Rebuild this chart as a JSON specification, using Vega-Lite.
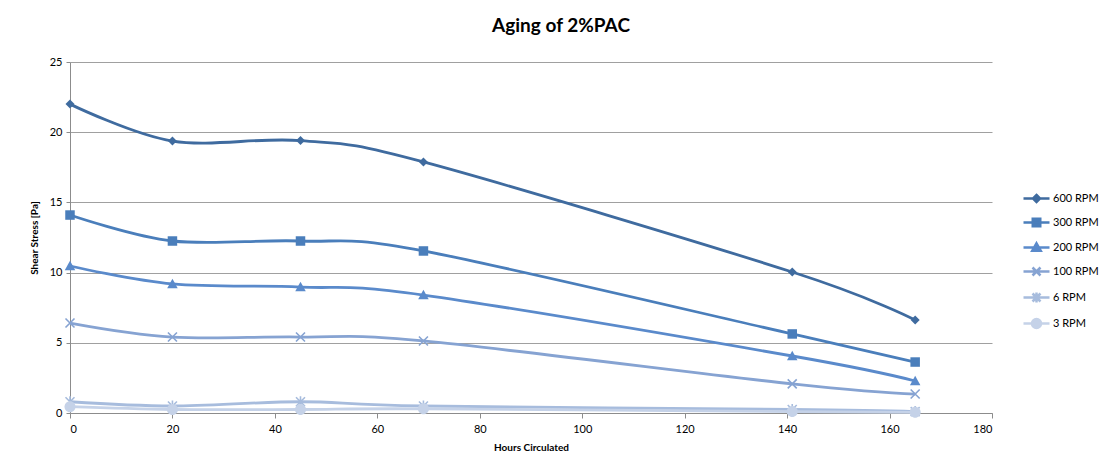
{
  "$schema": "https://vega.github.io/schema/vega-lite/v6.json",
  "autosize": "none",
  "width": 922,
  "height": 351,
  "padding": {"left": 70, "top": 62, "right": 112, "bottom": 57},
  "background": "white",
  "config": {
    "font": "Lato",
    "view": {"stroke": null},
    "axis": {
      "labelFont": "Lato",
      "labelFontSize": 11,
      "labelColor": "#000000",
      "titleFont": "Lato",
      "titleFontSize": 10,
      "titleFontWeight": "bold",
      "titleColor": "#000000",
      "domainColor": "#8C8C8C",
      "tickColor": "#8C8C8C",
      "gridColor": "#A0A0A0"
    }
  },
  "title": {
    "text": "Aging of 2%PAC",
    "fontSize": 19,
    "fontWeight": "bold",
    "font": "Lato",
    "color": "#000000",
    "anchor": "middle",
    "dx": 30,
    "offset": 20
  },
  "data": {
    "values": [
      {"h": 0, "s": "600 RPM", "v": 22.0},
      {"h": 20, "s": "600 RPM", "v": 19.37},
      {"h": 45, "s": "600 RPM", "v": 19.4},
      {"h": 69, "s": "600 RPM", "v": 17.88},
      {"h": 141, "s": "600 RPM", "v": 10.04},
      {"h": 165, "s": "600 RPM", "v": 6.62},
      {"h": 0, "s": "300 RPM", "v": 14.1},
      {"h": 20, "s": "300 RPM", "v": 12.25},
      {"h": 45, "s": "300 RPM", "v": 12.25},
      {"h": 69, "s": "300 RPM", "v": 11.54},
      {"h": 141, "s": "300 RPM", "v": 5.63},
      {"h": 165, "s": "300 RPM", "v": 3.63},
      {"h": 0, "s": "200 RPM", "v": 10.47},
      {"h": 20, "s": "200 RPM", "v": 9.19},
      {"h": 45, "s": "200 RPM", "v": 8.97},
      {"h": 69, "s": "200 RPM", "v": 8.4},
      {"h": 141, "s": "200 RPM", "v": 4.06},
      {"h": 165, "s": "200 RPM", "v": 2.28},
      {"h": 0, "s": "100 RPM", "v": 6.41},
      {"h": 20, "s": "100 RPM", "v": 5.41},
      {"h": 45, "s": "100 RPM", "v": 5.41},
      {"h": 69, "s": "100 RPM", "v": 5.13},
      {"h": 141, "s": "100 RPM", "v": 2.07},
      {"h": 165, "s": "100 RPM", "v": 1.35},
      {"h": 0, "s": "6 RPM", "v": 0.8},
      {"h": 20, "s": "6 RPM", "v": 0.5},
      {"h": 45, "s": "6 RPM", "v": 0.8},
      {"h": 69, "s": "6 RPM", "v": 0.5},
      {"h": 141, "s": "6 RPM", "v": 0.25},
      {"h": 165, "s": "6 RPM", "v": 0.1},
      {"h": 0, "s": "3 RPM", "v": 0.45},
      {"h": 20, "s": "3 RPM", "v": 0.25},
      {"h": 45, "s": "3 RPM", "v": 0.25},
      {"h": 69, "s": "3 RPM", "v": 0.3},
      {"h": 141, "s": "3 RPM", "v": 0.1},
      {"h": 165, "s": "3 RPM", "v": 0.05}
    ]
  },
  "encoding": {
    "x": {
      "field": "h",
      "type": "quantitative",
      "title": "Hours Circulated",
      "scale": {"domain": [0, 180], "nice": false},
      "axis": {
        "values": [0, 20, 40, 60, 80, 100, 120, 140, 160, 180],
        "grid": false,
        "tickSize": 5,
        "labelPadding": 5,
        "titlePadding": 8
      }
    },
    "y": {
      "field": "v",
      "type": "quantitative",
      "title": "Shear Stress [Pa]",
      "scale": {"domain": [0, 25], "nice": false},
      "axis": {
        "values": [0, 5, 10, 15, 20, 25],
        "grid": true,
        "tickSize": 4,
        "labelPadding": 4,
        "titlePadding": 10
      }
    },
    "color": {
      "field": "s",
      "type": "nominal",
      "scale": {
        "domain": ["600 RPM", "300 RPM", "200 RPM", "100 RPM", "6 RPM", "3 RPM"],
        "range": ["#3F6B9F", "#4A7EBB", "#5A8ACB", "#86A3D2", "#A7BCDD", "#C5D2E8"]
      },
      "legend": {
        "orient": "none",
        "legendX": 960,
        "legendY": 130,
        "title": null,
        "padding": 0,
        "symbolOffset": 0,
        "labelOffset": 10,
        "labelFont": "Lato",
        "labelFontSize": 11,
        "labelColor": "#000000",
        "rowPadding": 6,
        "symbolSize": 100,
        "symbolStrokeWidth": 2.5,
        "symbolType": "circle",
        "encode": {
          "symbols": {
            "update": {
              "shape": {"signal": "datum.value === '600 RPM' ? 'M-2.6,0L2.6,0M0,-0.7L0.7,0L0,0.7L-0.7,0Z' : datum.value === '300 RPM' ? 'M-2.6,0L2.6,0M-0.75,-0.75H0.75V0.75H-0.75Z' : datum.value === '200 RPM' ? 'M-2.6,0L2.6,0M0,-0.85L0.85,0.65L-0.85,0.65Z' : datum.value === '100 RPM' ? 'M-2.6,0L2.6,0M-0.8,-0.8L0.8,0.8M-0.8,0.8L0.8,-0.8' : datum.value === '6 RPM' ? 'M-2.6,0L2.6,0M-0.8,-0.8L0.8,0.8M-0.8,0.8L0.8,-0.8M0,-1L0,1' : 'M-2.6,0L2.6,0M0.9,0A0.9,0.9,0,1,1,-0.9,0A0.9,0.9,0,1,1,0.9,0Z'"},
              "fill": {"signal": "datum.value === '600 RPM' ? '#3F6B9F' : datum.value === '300 RPM' ? '#4A7EBB' : datum.value === '200 RPM' ? '#5A8ACB' : datum.value === '100 RPM' ? '#86A3D2' : datum.value === '6 RPM' ? '#A7BCDD' : '#C5D2E8'"},
              "stroke": {"signal": "datum.value === '600 RPM' ? '#3F6B9F' : datum.value === '300 RPM' ? '#4A7EBB' : datum.value === '200 RPM' ? '#5A8ACB' : datum.value === '100 RPM' ? '#86A3D2' : datum.value === '6 RPM' ? '#A7BCDD' : '#C5D2E8'"},
              "strokeWidth": {"value": 2.5},
              "opacity": {"value": 1}
            }
          }
        }
      }
    }
  },
  "layer": [
    {
      "mark": {"type": "line", "interpolate": "cardinal", "strokeWidth": 2.8},
      "encoding": {"detail": {"field": "s"}}
    },
    {
      "transform": [{"filter": "datum.s === '600 RPM'"}],
      "mark": {"type": "point", "filled": true, "opacity": 1, "size": 100, "shape": "M0,-0.9L0.9,0L0,0.9L-0.9,0Z"}
    },
    {
      "transform": [{"filter": "datum.s === '300 RPM'"}],
      "mark": {"type": "point", "filled": true, "opacity": 1, "size": 100, "shape": "M-0.95,-0.95H0.95V0.95H-0.95Z"}
    },
    {
      "transform": [{"filter": "datum.s === '200 RPM'"}],
      "mark": {"type": "point", "filled": true, "opacity": 1, "size": 100, "shape": "M0,-1.05L1.05,0.85L-1.05,0.85Z"}
    },
    {
      "transform": [{"filter": "datum.s === '100 RPM'"}],
      "mark": {"type": "point", "filled": false, "opacity": 1, "size": 100, "strokeWidth": 1.6, "shape": "M-0.9,-0.9L0.9,0.9M-0.9,0.9L0.9,-0.9"}
    },
    {
      "transform": [{"filter": "datum.s === '6 RPM'"}],
      "mark": {"type": "point", "filled": false, "opacity": 1, "size": 100, "strokeWidth": 1.6, "shape": "M-0.9,-0.9L0.9,0.9M-0.9,0.9L0.9,-0.9M0,-1.1L0,1.1"}
    },
    {
      "transform": [{"filter": "datum.s === '3 RPM'"}],
      "mark": {"type": "point", "filled": true, "opacity": 1, "size": 100, "shape": "M1.1,0A1.1,1.1,0,1,1,-1.1,0A1.1,1.1,0,1,1,1.1,0Z"}
    }
  ]
}
